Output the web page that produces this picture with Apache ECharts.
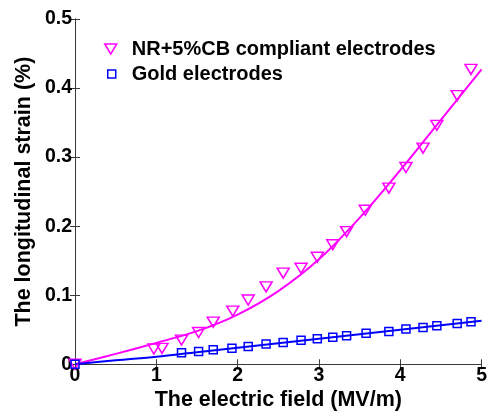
<!DOCTYPE html>
<html>
<head>
<meta charset="utf-8">
<script src="https://cdn.jsdelivr.net/npm/echarts@6/dist/echarts.min.js"></script>
<style>
  html, body { margin: 0; padding: 0; background: #fff; }
  #chart { width: 490px; height: 416px; }
</style>
</head>
<body>
<div id="chart"></div>
<script>
// Measured strain of the NR+5%CB compliant electrodes
const nrField  = [0, 0.97, 1.07, 1.31, 1.52, 1.70, 1.94, 2.13, 2.35, 2.56, 2.78, 2.98, 3.17, 3.34, 3.57, 3.86, 4.07, 4.28, 4.45, 4.70, 4.87];
const nrStrain = [0, 0.022, 0.023, 0.035, 0.046, 0.061, 0.077, 0.093, 0.112, 0.132, 0.139, 0.155, 0.173, 0.192, 0.223, 0.255, 0.285, 0.313, 0.346, 0.389, 0.427];

// Measured strain of the gold electrodes
const goldField  = [0, 1.31, 1.52, 1.70, 1.93, 2.13, 2.35, 2.56, 2.78, 2.98, 3.17, 3.34, 3.58, 3.86, 4.07, 4.28, 4.45, 4.70, 4.87];
const goldStrain = [0, 0.0167, 0.0186, 0.021, 0.0233, 0.0257, 0.0295, 0.0314, 0.0348, 0.0371, 0.039, 0.0414, 0.0448, 0.0476, 0.051, 0.0533, 0.0557, 0.059, 0.0614];

// Model curves
const fitField = [0, 0.5, 1, 1.5, 2, 2.5, 3, 3.5, 4, 4.5, 5];
const nrFit    = [0, 0.015, 0.031, 0.048, 0.072, 0.106, 0.152, 0.212, 0.281, 0.354, 0.427];
const goldFit  = [0, 0.0058, 0.011, 0.0175, 0.024, 0.0305, 0.037, 0.0435, 0.050, 0.0565, 0.063];

const nrName = 'NR+5%CB compliant electrodes';
const goldName = 'Gold electrodes';

const pair = (xs, ys) => xs.map((x, i) => [x, ys[i]]);

const FONT = 'Liberation Sans, Arial, Helvetica, sans-serif';
const FRAME = '#3a3a3a';
const MAGENTA = '#ff00ff';
const BLUE = '#0000ff';
const TRI_DOWN = 'path://M0,0 L12,0 L6,10 Z';

const tickStyle  = { color: '#000', fontFamily: FONT, fontWeight: 'bold', fontSize: 19.5 };
const titleStyle = { color: '#000', fontFamily: FONT, fontWeight: 'bold', fontSize: 21.5, lineHeight: 21.5 };
const legendText = { color: '#000', fontFamily: FONT, fontWeight: 'bold', fontSize: 20, lineHeight: 22 };

const chart = echarts.init(document.getElementById('chart'), null, { renderer: 'canvas' });

chart.setOption({
  animation: false,
  backgroundColor: '#fff',
  grid: { left: 75, right: 3, top: 19, bottom: 47, containLabel: false },
  legend: [
    {
      data: [nrName],
      orient: 'vertical',
      left: 99,
      top: 33,
      itemWidth: 12,
      itemHeight: 10,
      icon: TRI_DOWN,
      itemStyle: { color: 'transparent', borderColor: MAGENTA, borderWidth: 1.5 },
      textStyle: Object.assign({ padding: [0, 0, 0, 10] }, legendText)
    },
    {
      data: [goldName],
      orient: 'vertical',
      left: 102,
      top: 58,
      itemWidth: 8,
      itemHeight: 8,
      icon: 'rect',
      itemStyle: { color: 'transparent', borderColor: BLUE, borderWidth: 1.5 },
      textStyle: Object.assign({ padding: [0, 0, 0, 11] }, legendText)
    }
  ],
  xAxis: [
    {
      type: 'value', min: 0, max: 5, interval: 1,
      name: 'The electric field (MV/m)',
      nameLocation: 'middle',
      nameGap: 25,
      nameMoveOverlap: false,
      nameTextStyle: titleStyle,
      axisLine: { show: true, lineStyle: { color: FRAME, width: 1 } },
      axisTick: { show: true, inside: true, length: 5, lineStyle: { color: FRAME } },
      axisLabel: Object.assign({ margin: 1 }, tickStyle),
      splitLine: { show: false }
    },
    {
      type: 'value', min: 0, max: 5, interval: 1, position: 'top',
      axisLine: { show: true, lineStyle: { color: FRAME, width: 1 } },
      axisTick: { show: true, inside: true, length: 5, lineStyle: { color: FRAME } },
      axisLabel: { show: false },
      splitLine: { show: false }
    }
  ],
  yAxis: [
    {
      type: 'value', min: 0, max: 0.5, interval: 0.1,
      name: 'The longitudinal strain (%)',
      nameLocation: 'middle',
      nameRotate: 90,
      nameGap: 40,
      nameMoveOverlap: false,
      nameTextStyle: titleStyle,
      axisLine: { show: true, lineStyle: { color: FRAME, width: 1 } },
      axisTick: { show: true, inside: true, length: 5, lineStyle: { color: FRAME } },
      axisLabel: Object.assign({ margin: 3 }, tickStyle),
      splitLine: { show: false }
    },
    {
      type: 'value', min: 0, max: 0.5, interval: 0.1, position: 'right',
      axisLine: { show: true, lineStyle: { color: FRAME, width: 1 } },
      axisTick: { show: true, inside: true, length: 5, lineStyle: { color: FRAME } },
      axisLabel: { show: false },
      splitLine: { show: false }
    }
  ],
  series: [
    {
      name: 'nr-model', type: 'line', data: pair(fitField, nrFit),
      smooth: 0.35, showSymbol: false, symbol: 'none',
      lineStyle: { color: MAGENTA, width: 2 }, z: 2
    },
    {
      name: 'gold-model', type: 'line', data: pair(fitField, goldFit),
      smooth: 0.35, showSymbol: false, symbol: 'none',
      lineStyle: { color: BLUE, width: 2 }, z: 2
    },
    {
      name: nrName, type: 'scatter', data: pair(nrField, nrStrain),
      symbol: TRI_DOWN, symbolSize: [12, 10],
      itemStyle: { color: 'transparent', borderColor: MAGENTA, borderWidth: 1.5, opacity: 1 },
      z: 3
    },
    {
      name: goldName, type: 'scatter', data: pair(goldField, goldStrain),
      symbol: 'rect', symbolSize: 8,
      itemStyle: { color: 'transparent', borderColor: BLUE, borderWidth: 1.5, opacity: 1 },
      z: 3
    }
  ]
});
</script>
</body>
</html>
